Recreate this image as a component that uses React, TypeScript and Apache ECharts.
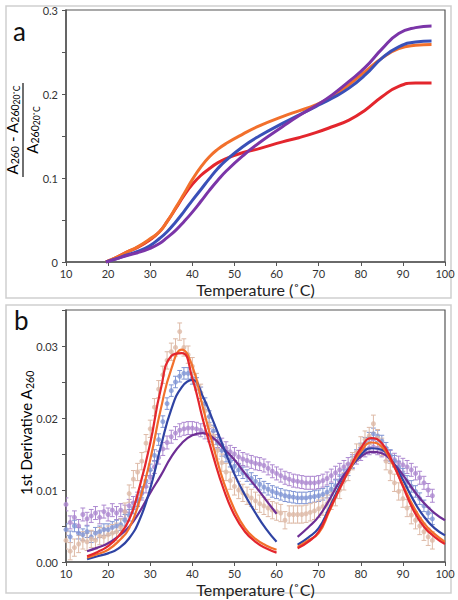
import React, { useEffect, useRef } from "react";
import * as echarts from "echarts";

// ---------- Panel a data ----------
const TEMP_A = [19.5, 22, 24.3, 27, 29.8, 32.2, 34, 36.1, 38, 40.1, 42, 44, 46, 48, 51.9, 55.9, 61.4, 65.3, 69.3, 73.2, 77.2, 81.1, 85.1, 89, 93, 96.8];
const A_ORANGE = [0, 0.0055, 0.0115, 0.018, 0.027, 0.036, 0.048, 0.065, 0.081, 0.099, 0.113, 0.125, 0.134, 0.141, 0.152, 0.162, 0.173, 0.18, 0.187, 0.197, 0.211, 0.227, 0.243, 0.254, 0.258, 0.259];
const A_RED = [0, 0.0055, 0.0115, 0.0175, 0.026, 0.036, 0.048, 0.064, 0.079, 0.093, 0.103, 0.111, 0.118, 0.123, 0.13, 0.135, 0.143, 0.148, 0.154, 0.161, 0.169, 0.181, 0.197, 0.209, 0.213, 0.213];
const A_BLUE = [0, 0.004, 0.008, 0.0125, 0.019, 0.028, 0.036, 0.048, 0.06, 0.074, 0.086, 0.099, 0.111, 0.121, 0.137, 0.15, 0.165, 0.175, 0.185, 0.195, 0.207, 0.223, 0.243, 0.256, 0.262, 0.263];
const A_PURPLE = [0, 0.0038, 0.0075, 0.011, 0.016, 0.022, 0.029, 0.038, 0.048, 0.06, 0.072, 0.085, 0.097, 0.108, 0.126, 0.142, 0.161, 0.174, 0.186, 0.199, 0.215, 0.232, 0.254, 0.272, 0.279, 0.281];

// ---------- Panel b data (measured points) ----------
const TEMP_B = [
  10, 11, 12, 13, 14, 15, 16, 17, 18, 19, 20, 21, 22, 23, 24, 25, 26, 27, 28, 29,
  30, 31, 32, 33, 34, 35, 36, 37, 38, 39, 40, 41, 42, 43, 44, 45, 46, 47, 48, 49,
  50, 51, 52, 53, 54, 55, 56, 57, 58, 59, 60, 61, 62, 63, 64, 65, 66, 67, 68, 69,
  70, 71, 72, 73, 74, 75, 76, 77, 78, 79, 80, 81, 82, 83, 84, 85, 86, 87, 88, 89,
  90, 91, 92, 93, 94, 95, 96, 97,
];
const B_TAN = [
  0.003, 0.0015, 0.002, 0.0025, 0.003, 0.0028, 0.0032, 0.003, 0.0036, 0.0035,
  0.0038, 0.004, 0.0042, 0.0048, 0.007, 0.0095, 0.0115, 0.0125, 0.014, 0.0165,
  0.0185, 0.0215, 0.024, 0.026, 0.028, 0.0292, 0.0298, 0.032, 0.0298, 0.0288,
  0.0272, 0.025, 0.0235, 0.021, 0.019, 0.0175, 0.0155, 0.0138, 0.0125, 0.0113,
  0.0105, 0.01, 0.0096, 0.0092, 0.0089, 0.0085, 0.0081, 0.0078, 0.0075, 0.0072,
  0.007, 0.0068, 0.0058, 0.0066, 0.0066, 0.0066, 0.0066, 0.0067, 0.0069, 0.0071,
  0.0074, 0.0077, 0.0081, 0.0085, 0.009, 0.01, 0.0112, 0.0125, 0.014, 0.0152,
  0.0162, 0.017, 0.0175, 0.0192, 0.0172, 0.016, 0.014, 0.0125, 0.011, 0.0098,
  0.0088, 0.0075, 0.0065, 0.0058, 0.005, 0.0042, 0.0035, 0.003,
];
const B_LBLUE = [
  0.0045, 0.0035, 0.005, 0.004, 0.0038, 0.0042, 0.0035, 0.004, 0.0042, 0.0045,
  0.0045, 0.0048, 0.005, 0.0052, 0.0058, 0.0065, 0.0075, 0.0085, 0.0097, 0.0112,
  0.0128, 0.0148, 0.017, 0.0195, 0.022, 0.0238, 0.025, 0.0258, 0.0262, 0.0262,
  0.0255, 0.0248, 0.0235, 0.022, 0.0202, 0.0182, 0.0165, 0.0155, 0.0147, 0.014,
  0.0133, 0.0128, 0.0124, 0.012, 0.0116, 0.0112, 0.0108, 0.0104, 0.0101, 0.0098,
  0.0096, 0.0094, 0.0092, 0.0091, 0.009, 0.0089, 0.0089, 0.0089, 0.009, 0.0091,
  0.0092, 0.0094, 0.0097, 0.0101, 0.0106, 0.0113, 0.012, 0.0128, 0.0138, 0.0148,
  0.0157, 0.0165, 0.0172, 0.0178, 0.0175, 0.0168, 0.0158, 0.0148, 0.014, 0.0132,
  0.0122, 0.0112, 0.0105, 0.0098, 0.0088, 0.0078, 0.0068, 0.006,
];
const B_LAV = [
  0.008, 0.0055, 0.0062, 0.005, 0.0066, 0.006, 0.0064, 0.0068, 0.0062, 0.007,
  0.0066, 0.0072, 0.0068, 0.0072, 0.007, 0.0078, 0.0082, 0.0088, 0.0095, 0.0105,
  0.0118, 0.0132, 0.0145, 0.0157, 0.0166, 0.0174, 0.0179, 0.0183, 0.0185, 0.0186,
  0.0186, 0.0185, 0.0183, 0.018, 0.0176, 0.0172, 0.0168, 0.0163, 0.0158, 0.0153,
  0.015, 0.0146, 0.0143, 0.0141, 0.0139, 0.0137, 0.0136, 0.0134, 0.013, 0.0126,
  0.0123, 0.012, 0.0117, 0.0115, 0.0113, 0.0112, 0.0111, 0.011, 0.011, 0.011,
  0.0111, 0.0113, 0.0116, 0.012, 0.0124, 0.0128, 0.0132, 0.0136, 0.014, 0.0145,
  0.015, 0.0155, 0.0158, 0.016, 0.0158, 0.0155, 0.015, 0.0146, 0.0142, 0.0138,
  0.0135, 0.0132, 0.0128, 0.0123, 0.0117, 0.011, 0.01, 0.0092,
];
const ERR_TAN = 0.0012;
const ERR_LBLUE = 0.0008;
const ERR_LAV = 0.0009;

// ---------- Panel b fitted curves ----------
const FIT_T1 = [15, 17.5, 20, 22.5, 25, 27.5, 30, 32.5, 35, 37.5, 40, 42.5, 45, 47.5, 50, 52.5, 55, 57.5, 60];
const FIT1_RED = [0.0008, 0.0014, 0.0022, 0.0036, 0.0059, 0.0105, 0.0165, 0.024, 0.0286, 0.029, 0.0255, 0.0198, 0.0146, 0.01, 0.0065, 0.0042, 0.0028, 0.0019, 0.0013];
const FIT1_ORANGE = [0.0006, 0.0011, 0.0017, 0.0029, 0.0047, 0.0086, 0.0142, 0.0212, 0.0268, 0.0295, 0.0272, 0.0215, 0.016, 0.011, 0.0073, 0.0047, 0.0032, 0.0023, 0.0017];
const FIT1_BLUE = [0.0004, 0.0008, 0.0012, 0.0019, 0.0033, 0.0059, 0.0102, 0.016, 0.0212, 0.0243, 0.0253, 0.023, 0.0195, 0.0158, 0.0122, 0.0093, 0.0068, 0.0046, 0.0028];
const FIT1_PURPLE = [0.0015, 0.002, 0.0026, 0.0036, 0.0049, 0.007, 0.0096, 0.012, 0.0146, 0.0165, 0.0176, 0.0179, 0.0172, 0.0157, 0.0142, 0.0123, 0.0105, 0.0086, 0.0067];
const FIT_T2 = [65, 67.5, 70, 72.5, 75, 77.5, 80, 82.5, 85, 87.5, 90, 92.5, 95, 97.5, 100];
const FIT2_RED = [0.0019, 0.0028, 0.0042, 0.0072, 0.0102, 0.0132, 0.0158, 0.0172, 0.0165, 0.0139, 0.0105, 0.0072, 0.0049, 0.0035, 0.0025];
const FIT2_ORANGE = [0.0021, 0.003, 0.004, 0.007, 0.0102, 0.013, 0.0153, 0.0166, 0.016, 0.0137, 0.0107, 0.0077, 0.0054, 0.0039, 0.0028];
const FIT2_BLUE = [0.0024, 0.0034, 0.0047, 0.0075, 0.0105, 0.013, 0.0149, 0.0158, 0.0156, 0.0139, 0.0114, 0.0086, 0.0063, 0.0047, 0.0037];
const FIT2_PURPLE = [0.0035, 0.0048, 0.0063, 0.0086, 0.0112, 0.0132, 0.0146, 0.0153, 0.0151, 0.0139, 0.0121, 0.01, 0.0082, 0.0068, 0.0058];

const FONT = "Lato, 'Open Sans', sans-serif";
const AXIS_COLOR = "#555";

const C_ORANGE = "#F2702C";
const C_RED = "#E3262D";
const C_BLUE = "#2F43A3";
const C_PURPLE = "#6E2E95";
const C_A_BLUE = "#3A50B8";
const C_A_PURPLE = "#7B35A8";
const C_TAN = "#DDB9A6";
const C_LBLUE = "#8095D4";
const C_LAV = "#AD88D0";

const zip = (xs: number[], ys: number[]) => xs.map((x, i) => [x, ys[i]]);

function errorSeries(temps: number[], vals: number[], err: number, color: string) {
  return {
    type: "custom",
    xAxisIndex: 1,
    yAxisIndex: 1,
    clip: true,
    silent: true,
    data: temps.map((t, i) => [t, vals[i], err]),
    renderItem: (_p: any, api: any) => {
      const x = api.value(0);
      const y = api.value(1);
      const e = api.value(2);
      const top = api.coord([x, y + e]);
      const bot = api.coord([x, Math.max(0, y - e)]);
      const w = 2.4;
      const st = { stroke: color, lineWidth: 1 };
      return {
        type: "group",
        children: [
          { type: "line", shape: { x1: top[0], y1: top[1], x2: bot[0], y2: bot[1] }, style: st },
          { type: "line", shape: { x1: top[0] - w, y1: top[1], x2: top[0] + w, y2: top[1] }, style: st },
          { type: "line", shape: { x1: bot[0] - w, y1: bot[1], x2: bot[0] + w, y2: bot[1] }, style: st },
        ],
      };
    },
  };
}

function scatterSeries(temps: number[], vals: number[], color: string) {
  return {
    type: "scatter",
    xAxisIndex: 1,
    yAxisIndex: 1,
    symbol: "circle",
    symbolSize: 5,
    itemStyle: { color },
    data: zip(temps, vals),
  };
}

function lineSeries(xi: number, temps: number[], vals: number[], color: string, width: number) {
  return {
    type: "line",
    xAxisIndex: xi,
    yAxisIndex: xi,
    smooth: 0.5,
    showSymbol: false,
    symbol: "none",
    lineStyle: { color, width },
    data: zip(temps, vals),
  };
}

function makeXAxis(gridIndex: number) {
  return {
    type: "value",
    gridIndex,
    min: 10,
    max: 100,
    interval: 10,
    name: "Temperature (˚C)",
    nameLocation: "middle",
    nameGap: 19,
    nameTextStyle: { fontFamily: FONT, fontSize: 16, lineHeight: 16, color: "#222" },
    axisLine: { show: true, lineStyle: { color: AXIS_COLOR, width: 1.5 } },
    axisTick: { show: true, length: 4, lineStyle: { color: AXIS_COLOR } },
    axisLabel: { fontFamily: FONT, fontSize: 11, lineHeight: 12, color: "#333", margin: 5 },
    splitLine: { show: false },
  };
}

const richSub = {
  m: { fontFamily: FONT, fontSize: 15, color: "#222", lineHeight: 20, verticalAlign: "middle" },
  s: { fontFamily: FONT, fontSize: 10.5, color: "#222", verticalAlign: "bottom", padding: [0, 0, 1, 0] },
  t: { fontFamily: FONT, fontSize: 8.5, color: "#222", verticalAlign: "bottom" },
};

export default function App() {
  const ref = useRef<HTMLDivElement>(null);

  useEffect(() => {
    document.body.style.margin = "0";
    if (!ref.current) return;
    const chart = echarts.init(ref.current, undefined, { renderer: "svg" });

    const option: any = {
      animation: false,
      backgroundColor: "#fff",
      grid: [
        { left: 66, top: 10, width: 379, height: 252, show: true, borderColor: AXIS_COLOR, borderWidth: 1.2, containLabel: false },
        { left: 66, top: 310, width: 379, height: 252, show: true, borderColor: AXIS_COLOR, borderWidth: 1.2, containLabel: false },
      ],
      xAxis: [makeXAxis(0), makeXAxis(1)],
      yAxis: [
        {
          type: "value",
          gridIndex: 0,
          min: 0,
          max: 0.3,
          interval: 0.05,
          axisLine: { show: true, lineStyle: { color: AXIS_COLOR, width: 1.5 } },
          axisTick: { show: true, length: 4, lineStyle: { color: AXIS_COLOR } },
          axisLabel: {
            fontFamily: FONT,
            fontSize: 11,
            color: "#333",
            margin: 8,
            formatter: (v: number) => {
              const k = v * 10;
              if (Math.abs(k - Math.round(k)) > 1e-6) return "";
              return v === 0 ? "0" : v.toFixed(1);
            },
          },
          splitLine: { show: false },
        },
        {
          type: "value",
          gridIndex: 1,
          min: 0,
          max: 0.035,
          interval: 0.005,
          axisLine: { show: true, lineStyle: { color: AXIS_COLOR, width: 1.5 } },
          axisTick: { show: true, length: 4, lineStyle: { color: AXIS_COLOR } },
          axisLabel: {
            fontFamily: FONT,
            fontSize: 11,
            color: "#333",
            margin: 8,
            formatter: (v: number) => {
              const k = v * 100;
              if (Math.abs(k - Math.round(k)) > 1e-6) return "";
              return v.toFixed(2);
            },
          },
          splitLine: { show: false },
        },
      ],
      graphic: [
        { type: "rect", shape: { x: 6, y: 6, width: 445, height: 292 }, style: { fill: "none", stroke: "#cfcfcf", lineWidth: 1.5 }, silent: true },
        { type: "rect", shape: { x: 6, y: 305, width: 445, height: 288 }, style: { fill: "none", stroke: "#cfcfcf", lineWidth: 1.5 }, silent: true },
        { type: "text", left: 13, top: 18, style: { text: "a", fontFamily: FONT, fontSize: 26, fill: "#111" } },
        { type: "text", left: 14, top: 307, style: { text: "b", fontFamily: FONT, fontSize: 26, fill: "#111" } },
        {
          type: "group",
          x: 23,
          y: 130,
          rotation: Math.PI / 2,
          children: [
            {
              type: "text",
              x: 0,
              y: -11.5,
              style: {
                text: "{m|A}{s|260}{m| - A}{s|260}{t|20˚C}",
                rich: richSub,
                align: "center",
                verticalAlign: "middle",
              },
            },
            { type: "line", shape: { x1: -47, y1: 0, x2: 47, y2: 0 }, style: { stroke: "#222", lineWidth: 1.3 } },
            {
              type: "text",
              x: 0,
              y: 8.5,
              style: {
                text: "{m|A}{s|260}{t|20˚C}",
                rich: richSub,
                align: "center",
                verticalAlign: "middle",
              },
            },
          ],
        },
        {
          type: "text",
          x: 26,
          y: 433,
          rotation: Math.PI / 2,
          style: {
            text: "{m|1st Derivative A}{s|260}",
            rich: richSub,
            align: "center",
            verticalAlign: "middle",
          },
        },
      ],
      series: [
        // Panel a
        lineSeries(0, TEMP_A, A_RED, C_RED, 3),
        lineSeries(0, TEMP_A, A_ORANGE, C_ORANGE, 3),
        lineSeries(0, TEMP_A, A_BLUE, C_A_BLUE, 3),
        lineSeries(0, TEMP_A, A_PURPLE, C_A_PURPLE, 3),
        // Panel b measured data
        errorSeries(TEMP_B, B_LAV, ERR_LAV, C_LAV),
        scatterSeries(TEMP_B, B_LAV, C_LAV),
        errorSeries(TEMP_B, B_LBLUE, ERR_LBLUE, C_LBLUE),
        scatterSeries(TEMP_B, B_LBLUE, C_LBLUE),
        errorSeries(TEMP_B, B_TAN, ERR_TAN, C_TAN),
        scatterSeries(TEMP_B, B_TAN, C_TAN),
        // Panel b fits
        lineSeries(1, FIT_T1, FIT1_PURPLE, C_PURPLE, 2.2),
        lineSeries(1, FIT_T2, FIT2_PURPLE, C_PURPLE, 2.2),
        lineSeries(1, FIT_T1, FIT1_BLUE, C_BLUE, 2.2),
        lineSeries(1, FIT_T2, FIT2_BLUE, C_BLUE, 2.2),
        lineSeries(1, FIT_T1, FIT1_ORANGE, C_ORANGE, 2.2),
        lineSeries(1, FIT_T2, FIT2_ORANGE, C_ORANGE, 2.2),
        lineSeries(1, FIT_T1, FIT1_RED, C_RED, 2.2),
        lineSeries(1, FIT_T2, FIT2_RED, C_RED, 2.2),
      ],
    };

    chart.setOption(option);
    return () => chart.dispose();
  }, []);

  return <div ref={ref} style={{ width: 458, height: 600 }} />;
}
